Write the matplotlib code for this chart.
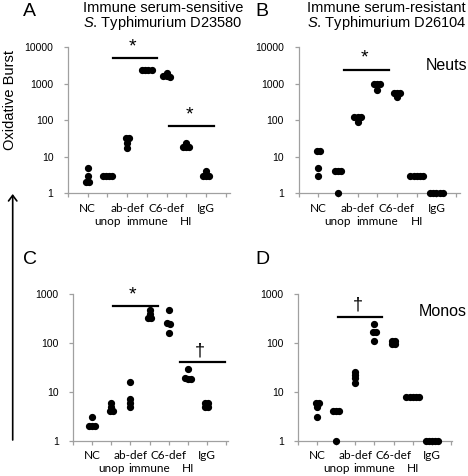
import matplotlib
matplotlib.use('Agg')
import matplotlib.pyplot as plt
import numpy as np

plt.rcParams['font.family'] = ['Liberation Sans', 'DejaVu Sans']
plt.rcParams['mathtext.fontset'] = 'custom'
plt.rcParams['mathtext.it'] = 'Liberation Sans:italic'
plt.rcParams['mathtext.rm'] = 'Liberation Sans'

# categories along the x axis
categories = ['NC', 'unop', 'ab-def', 'immune', 'C6-def', 'HI', 'IgG']

# oxidative burst values, one list per category
neuts_sens = [[5, 3, 2, 2], [3, 3, 3, 3], [33, 32, 24, 17], [2400, 2300, 2300, 2400],
              [1900, 1600, 1550, 1600], [24, 19, 18, 19], [4, 3, 3, 3]]
neuts_res = [[14, 14, 5, 3], [4, 4, 4, 1], [120, 120, 120, 88], [1000, 1000, 1000, 650],
             [550, 550, 550, 430], [3, 3, 3, 3, 3], [1, 1, 1, 1, 1]]
monos_sens = [[3, 2, 2, 2], [6, 5, 4, 4], [16, 7, 6, 5], [470, 390, 330, 330],
              [480, 260, 240, 160], [29, 18, 18, 19], [6, 6, 5, 5]]
monos_res = [[6, 6, 5, 3], [4, 4, 4, 1], [25, 22, 19, 15], [240, 170, 165, 110],
             [110, 110, 95, 95], [8, 8, 8, 8, 8], [1, 1, 1, 1, 1]]

# significance bars: (x start, x end, y level, symbol)
sig_a = [(2.27, 4.53, 5000, '*'), (5.13, 7.41, 70, '*')]
sig_b = [(2.31, 4.60, 2400, '*')]
sig_c = [(2.07, 4.42, 575, '*'), (5.60, 7.96, 41, '\u2020')]
sig_d = [(2.07, 4.41, 344, '\u2020')]

W, H = 468, 476
fig = plt.figure(figsize=(W / 100, H / 100), dpi=100)


def box(x0, x1, ytop, ybot):
    return [x0 / W, 1 - ybot / H, (x1 - x0) / W, (ybot - ytop) / H]


def offsets(vals, tol=0.05, step=0.16):
    # spread points with (nearly) equal values side by side
    lv = np.log10(vals)
    order = np.argsort(-lv)
    groups, cur = [], [order[0]]
    for i in order[1:]:
        if abs(lv[i] - lv[cur[0]]) < tol:
            cur.append(i)
        else:
            groups.append(cur)
            cur = [i]
    groups.append(cur)
    off = np.zeros(len(vals))
    for g in groups:
        n = len(g)
        for k, i in enumerate(g):
            off[i] = (k - (n - 1) / 2) * step
    return off


def panel(rect, xmax, ytop, data, sigs):
    ax = fig.add_axes(rect)
    for i, vals in enumerate(data):
        xs = i + 1 + offsets(vals)
        ax.plot(xs, vals, 'o', color='black', markersize=4.2, clip_on=False, zorder=3)
    ax.set_yscale('log')
    ax.set_ylim(1, ytop)
    ax.set_xlim(0, xmax)
    ticks = [10 ** k for k in range(int(np.log10(ytop)) + 1)]
    ax.set_yticks(ticks)
    ax.set_yticklabels([str(t) for t in ticks], fontsize=7.5)
    ax.minorticks_off()
    ax.set_xticks(range(0, 9))
    ax.set_xticklabels([])
    # category names on two alternating rows
    for i, c in enumerate(categories):
        dy = -15 if i % 2 == 0 else -28
        ax.annotate(c, (i + 1, 0), xycoords=('data', 'axes fraction'),
                    xytext=(0, dy * 0.72), textcoords='offset points',
                    ha='center', va='center', fontsize=8.5, family='Lato')
    for s in ['top', 'right']:
        ax.spines[s].set_visible(False)
    for s in ['left', 'bottom']:
        ax.spines[s].set_color('#a0a0a0')
        ax.spines[s].set_linewidth(0.9)
    ax.tick_params(axis='both', color='#a0a0a0', length=3, width=0.9)
    ax.tick_params(axis='y', pad=7.5)
    for x0, x1, y, sym in sigs:
        ax.plot([x0, x1], [y, y], color='black', lw=1.6, clip_on=False)
        ax.annotate(sym, ((x0 + x1) / 2 - 0.12, y), xytext=(0, 2), textcoords='offset points',
                    ha='center', va='bottom', fontsize=14 if sym == '*' else 13,
                    annotation_clip=False)
    return ax


panel(box(68, 230, 47, 193.3), 8.22, 10000, neuts_sens, sig_a)
panel(box(298.5, 460, 47, 193.3), 8.2, 10000, neuts_res, sig_b)
panel(box(73.3, 228, 294, 440.7), 8.12, 1000, monos_sens, sig_c)
panel(box(298.3, 452, 294, 440.7), 8.07, 1000, monos_res, sig_d)

# panel letters
for lab, px, py in [('A', 23, 12), ('B', 255, 12), ('C', 23, 260), ('D', 255, 260)]:
    fig.text(px / W, 1 - py / H, lab, fontsize=14, ha='left', va='center')

# titles
fig.text(83 / W, 1 - 7.5 / H, 'Immune serum-sensitive', fontsize=10.5, va='center')
fig.text(83 / W, 1 - 22.5 / H, '$\\mathit{S}$. Typhimurium D23580', fontsize=10.5, va='center')
fig.text(307 / W, 1 - 7.5 / H, 'Immune serum-resistant', fontsize=10.5, va='center')
fig.text(307 / W, 1 - 22.5 / H, '$\\mathit{S}$. Typhimurium D26104', fontsize=10.5, va='center')

fig.text(467 / W, 1 - 65 / H, 'Neuts', fontsize=11.5, ha='right', va='center')
fig.text(467 / W, 1 - 312 / H, 'Monos', fontsize=11.5, ha='right', va='center')

# y label with long arrow
fig.text(10 / W, 1 - 100 / H, 'Oxidative Burst', fontsize=10.5, rotation=90,
         ha='center', va='center')
fig.add_artist(matplotlib.patches.FancyArrowPatch(
    (12.7 / W, 1 - 440 / H), (12.7 / W, 1 - 194 / H), transform=fig.transFigure,
    arrowstyle='->,head_length=4,head_width=3', lw=1.2, color='black',
    shrinkA=0, shrinkB=0))

fig.savefig('out.png', dpi=100)
